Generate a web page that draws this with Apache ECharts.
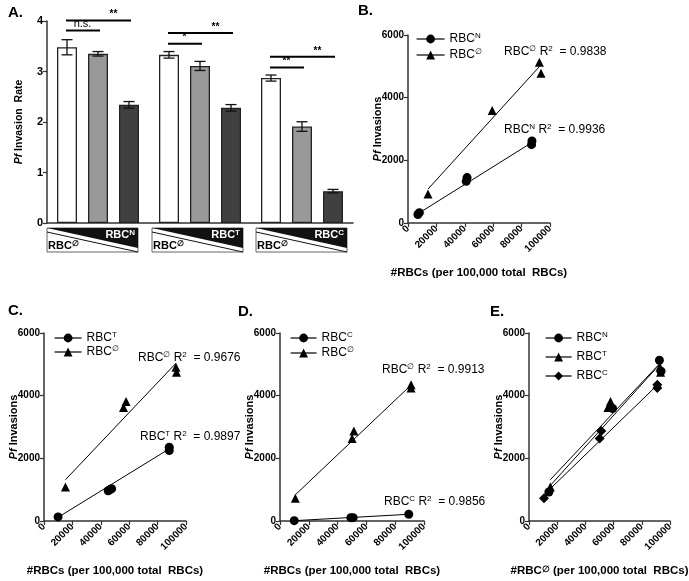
<!DOCTYPE html>
<html><head><meta charset="utf-8">
<script src="https://cdn.jsdelivr.net/npm/echarts@6/dist/echarts.min.js"></script>
<style>html,body{margin:0;padding:0;background:#fff}#c{width:689px;height:581px}</style>
</head><body><div id="c"></div>
<script>
// ---------------- Panel A data ----------------
const groupNames = ['RBCN', 'RBCT', 'RBCC'];
const rateWhite = [3.48, 3.33, 2.87];
const rateGray  = [3.35, 3.11, 1.91];
const rateDark  = [2.34, 2.28, 0.63];
const errWhite  = [0.15, 0.065, 0.06];
const errGray   = [0.045, 0.09, 0.095];
const errDark   = [0.065, 0.065, 0.035];
const sigGroup = [0, 0, 1, 1, 2, 2];
const sigFrom  = [0, 0, 0, 0, 0, 0];
const sigTo    = [2, 1, 2, 1, 2, 1];
const sigY     = [4.01, 3.81, 3.76, 3.55, 3.29, 3.08];
const sigText  = ['**', 'n.s.', '**', '*', '**', '**'];
const boxTop = ['N', 'T', 'C'];

// ---------------- Panel B data ----------------
const bN = [[7000, 270], [8000, 330], [41000, 1330], [41600, 1450], [87000, 2500], [87300, 2620]];
const b0 = [[14100, 924], [59300, 3590], [92500, 5130], [93650, 4780]];
const bNfit = [[7000, 297], [87300, 2570]];
const b0fit = [[14100, 1083], [92500, 4990]];
const bR2 = ['0.9838', '0.9936'];

// ---------------- Panel C data ----------------
const cT = [[9900, 130], [45200, 964], [46500, 1000], [47600, 1028], [88200, 2356], [88200, 2249]];
const c0 = [[15100, 1082], [56000, 3620], [57800, 3813], [92900, 4905], [93300, 4745]];
const cTfit = [[9900, 118], [88200, 2303]];
const c0fit = [[15100, 1317], [92900, 5034]];
const cR2 = ['0.9676', '0.9897'];

// ---------------- Panel D data ----------------
const dC = [[9900, 10], [49200, 107], [50800, 107], [89400, 214]];
const d0 = [[10640, 728], [50100, 2635], [51300, 2870], [91000, 4348], [91000, 4241]];
const dCfit = [[9900, 10], [89400, 214]];
const d0fit = [[10640, 835], [91000, 4338]];
const dR2 = ['0.9913', '0.9856'];

// ---------------- Panel E data (same RBC∅ measurements) ----------------
const eN = b0, eT = c0, eC = d0;
const eNfit = b0fit, eTfit = c0fit, eCfit = d0fit;

const xTicks = { min: 0, max: 100000, interval: 20000 };
const yTicks = { min: 0, max: 6000, interval: 2000 };

const FONT = '"Liberation Sans", Arial, Helvetica, sans-serif';
const AX = '#333';

const chart = echarts.init(document.getElementById('c'), null, { renderer: 'canvas' });

const rich12 = {
  t: { fontSize: 12, fontFamily: FONT, color: '#000', lineHeight: 14 },
  s: { fontSize: 8, fontFamily: FONT, color: '#000', lineHeight: 8, verticalAlign: 'top' }
};
const legendLabels = {
  bN: '{t|RBC}{s|N}', b0: '{t|RBC}{s|∅}',
  cT: '{t|RBC}{s|T}', c0: '{t|RBC}{s|∅}',
  dC: '{t|RBC}{s|C}', d0: '{t|RBC}{s|∅}',
  eN: '{t|RBC}{s|N}', eT: '{t|RBC}{s|T}', eC: '{t|RBC}{s|C}'
};

function legend(names, left, top, gap, iw) {
  return {
    orient: 'vertical', left: left, top: top, itemGap: gap, itemWidth: iw, itemHeight: 11,
    data: names, selectedMode: false, padding: 0,
    formatter: n => legendLabels[n],
    textStyle: { fontSize: 12, fontFamily: FONT, color: '#000', rich: rich12 },
    lineStyle: { color: '#000', width: 1.2, opacity: 1, type: 'solid' },
    itemStyle: { color: '#000', opacity: 1 }
  };
}

const nameStyle = (size) => ({
  fontSize: size, fontWeight: 'bold', fontFamily: FONT, color: '#000',
  rich: {
    i: { fontSize: size, fontWeight: 'bold', fontStyle: 'italic', fontFamily: FONT, color: '#000' },
    b: { fontSize: size, fontWeight: 'bold', fontFamily: FONT, color: '#000' },
    s: { fontSize: size - 3, fontWeight: 'bold', fontFamily: FONT, color: '#000', verticalAlign: 'top', lineHeight: 8 }
  }
});

const plain = v => String(v);

function sx(gi, name) {
  return {
    gridIndex: gi, type: 'value', min: xTicks.min, max: xTicks.max, interval: xTicks.interval,
    axisLine: { show: true, onZero: false, lineStyle: { color: AX, width: 1.5 } },
    axisTick: { show: true, length: 4, lineStyle: { color: AX, width: 1.2 } },
    axisLabel: { rotate: 45, fontSize: 10, fontWeight: 'bold', color: '#000', margin: 4, fontFamily: FONT, formatter: plain },
    splitLine: { show: false },
    name: name, nameLocation: 'middle', nameGap: 44, nameMoveOverlap: false,
    nameTextStyle: nameStyle(11.5)
  };
}
function sy(gi) {
  return {
    gridIndex: gi, type: 'value', min: yTicks.min, max: yTicks.max, interval: yTicks.interval,
    axisLine: { show: true, onZero: false, lineStyle: { color: AX, width: 1.5 } },
    axisTick: { show: true, length: 4, lineStyle: { color: AX, width: 1.2 } },
    axisLabel: { fontSize: 10, fontWeight: 'bold', color: '#000', margin: 4, fontFamily: FONT, formatter: plain },
    splitLine: { show: false },
    name: '{i|Pf}{b| Invasions}', nameLocation: 'middle', nameGap: 25, nameMoveOverlap: false,
    nameTextStyle: nameStyle(11)
  };
}

function pts(name, gi, data, symbol) {
  return {
    type: 'line', name: name, xAxisIndex: gi, yAxisIndex: gi, data: data,
    symbol: symbol, symbolSize: symbol === 'diamond' ? 10 : 9, showSymbol: true, showAllSymbol: true,
    itemStyle: { color: '#000' }, lineStyle: { opacity: 0 }, z: 4, silent: true, animation: false
  };
}
function fit(gi, data) {
  return {
    type: 'line', xAxisIndex: gi, yAxisIndex: gi, data: data, symbol: 'none',
    lineStyle: { color: '#000', width: 1 }, z: 3, silent: true, animation: false
  };
}

const STEP = 31; // px between bar centres in a group (barWidth 20, gap 11)
const errData = [];
[[rateWhite, errWhite], [rateGray, errGray], [rateDark, errDark]].forEach(([m, e], j) => {
  m.forEach((v, g) => errData.push([g, j, v - e[g], v + e[g]]));
});
const sigData = sigGroup.map((g, i) => [g, sigFrom[i], sigTo[i], sigY[i]]);

const grids = [
  { left: 47, top: 21, width: 306, height: 202 },
  { left: 408, top: 35, width: 142, height: 188 },
  { left: 44, top: 333, width: 142, height: 188 },
  { left: 280, top: 333, width: 144, height: 188 },
  { left: 529, top: 333, width: 141, height: 188 }
].map(g => Object.assign({ outerBoundsMode: 'none', containLabel: false }, g));

const barBase = { type: 'bar', xAxisIndex: 0, yAxisIndex: 0, barWidth: 20, barGap: '55%', animation: false, silent: true };

const option = {
  animation: false,
  backgroundColor: '#fff',
  textStyle: { fontFamily: FONT },
  grid: grids,
  legend: [
    legend(['bN', 'b0'], 416, 32, 3, 28),
    legend(['cT', 'c0'], 54, 331, 1, 27),
    legend(['dC', 'd0'], 290, 331, 2, 26),
    legend(['eN', 'eT', 'eC'], 545, 331, 6, 26)
  ],
  xAxis: [
    {
      gridIndex: 0, type: 'category', data: groupNames,
      axisLine: { show: true, lineStyle: { color: AX, width: 1.5 } },
      axisTick: { show: false }, axisLabel: { show: false }, splitLine: { show: false }
    },
    sx(1, '{b|#RBCs (per 100,000 total  RBCs)}'),
    sx(2, '{b|#RBCs (per 100,000 total  RBCs)}'),
    sx(3, '{b|#RBCs (per 100,000 total  RBCs)}'),
    sx(4, '{b|#RBC}{s|∅}{b| (per 100,000 total  RBCs)}')
  ],
  yAxis: [
    {
      gridIndex: 0, type: 'value', min: 0, max: 4, interval: 1,
      axisLine: { show: true, lineStyle: { color: AX, width: 1.5 } },
      axisTick: { show: true, length: 4, lineStyle: { color: AX, width: 1.2 } },
      axisLabel: { fontSize: 11, fontWeight: 'bold', color: '#000', margin: 4, fontFamily: FONT },
      splitLine: { show: false },
      name: '{i|Pf}{b| Invasion  Rate}', nameLocation: 'middle', nameGap: 22, nameMoveOverlap: false,
      nameTextStyle: nameStyle(10.5)
    },
    sy(1), sy(2), sy(3), sy(4)
  ],
  series: [
    Object.assign({}, barBase, { name: 'mixWhite', data: rateWhite, itemStyle: { color: '#ffffff', borderColor: '#222', borderWidth: 1.3 } }),
    Object.assign({}, barBase, { name: 'mixGray', data: rateGray, itemStyle: { color: '#999999', borderColor: '#222', borderWidth: 1.3 } }),
    Object.assign({}, barBase, { name: 'mixDark', data: rateDark, itemStyle: { color: '#404040', borderColor: '#222', borderWidth: 1.3 } }),
    {
      type: 'custom', xAxisIndex: 0, yAxisIndex: 0, data: errData, z: 5, silent: true,
      encode: { x: 0, y: [2, 3] },
      renderItem: (params, api) => {
        const g = api.value(0), j = api.value(1);
        const p1 = api.coord([g, api.value(2)]), p2 = api.coord([g, api.value(3)]);
        const x = p1[0] + (j - 1) * STEP, cap = 5.5;
        const st = { stroke: '#111', lineWidth: 1.3 };
        return { type: 'group', children: [
          { type: 'line', shape: { x1: x, y1: p1[1], x2: x, y2: p2[1] }, style: st },
          { type: 'line', shape: { x1: x - cap, y1: p1[1], x2: x + cap, y2: p1[1] }, style: st },
          { type: 'line', shape: { x1: x - cap, y1: p2[1], x2: x + cap, y2: p2[1] }, style: st }
        ] };
      }
    },
    {
      type: 'custom', xAxisIndex: 0, yAxisIndex: 0, data: sigData, z: 5, silent: true, clip: false,
      encode: { x: 0, y: 3 },
      renderItem: (params, api) => {
        const g = api.value(0), a = api.value(1), b = api.value(2);
        const c = api.coord([g, api.value(3)]);
        const x1 = c[0] + (a - 1) * STEP - 1, x2 = c[0] + (b - 1) * STEP + 2;
        const tAt = (b - a) > 1 ? a + 1.5 : (a + b) / 2;
        const tx = c[0] + (tAt - 1) * STEP;
        const txt = sigText[params.dataIndex];
        const isNs = txt === 'n.s.';
        return { type: 'group', children: [
          { type: 'line', shape: { x1: x1, y1: c[1], x2: x2, y2: c[1] }, style: { stroke: '#000', lineWidth: 2 } },
          { type: 'text', x: tx, y: c[1] - 1, style: {
              text: txt, fill: '#000', align: 'center', verticalAlign: 'bottom',
              font: (isNs ? 'normal 11px ' : 'bold 10px ') + FONT } }
        ] };
      }
    },
    fit(1, bNfit), fit(1, b0fit), pts('bN', 1, bN, 'circle'), pts('b0', 1, b0, 'triangle'),
    fit(2, cTfit), fit(2, c0fit), pts('cT', 2, cT, 'circle'), pts('c0', 2, c0, 'triangle'),
    fit(3, dCfit), fit(3, d0fit), pts('dC', 3, dC, 'circle'), pts('d0', 3, d0, 'triangle'),
    fit(4, eNfit), fit(4, eTfit), fit(4, eCfit),
    pts('eN', 4, eN, 'circle'), pts('eT', 4, eT, 'triangle'), pts('eC', 4, eC, 'diamond')
  ]
};

// ---- decorations: panel letters, R² notes, mix boxes under panel A ----
const graphics = [];
[['A.', 8, 13], ['B.', 358, 11], ['C.', 8, 311], ['D.', 238, 312], ['E.', 490, 312]].forEach(([t, x, y]) => {
  graphics.push({ type: 'text', x: x, y: y, style: { text: t, font: 'bold 15px ' + FONT, fill: '#000', verticalAlign: 'middle' } });
});
function r2(sup, val, x, y) {
  graphics.push({ type: 'text', x: x, y: y, style: {
    text: '{t|RBC}{s|' + sup + '}{t| R}{s|2}{t|  = ' + val + '}', rich: rich12, verticalAlign: 'middle', fill: '#000' } });
}
r2('∅', bR2[0], 504, 52); r2('N', bR2[1], 504, 130);
r2('∅', cR2[0], 138, 358); r2('T', cR2[1], 140, 437);
r2('∅', dR2[0], 382, 370); r2('C', dR2[1], 384, 502);

const boxX = [47, 152, 256], boxW = 91, boxY = 228, boxH = 24;
boxX.forEach((x0, k) => {
  graphics.push({ type: 'rect', shape: { x: x0, y: boxY, width: boxW, height: boxH }, style: { fill: '#fff', stroke: '#666', lineWidth: 1 } });
  graphics.push({ type: 'polygon', shape: { points: [[x0, boxY], [x0 + boxW, boxY], [x0 + boxW, boxY + boxH - 4]] }, style: { fill: '#111' } });
  graphics.push({ type: 'line', shape: { x1: x0, y1: boxY + 4, x2: x0 + boxW, y2: boxY + boxH }, style: { stroke: '#111', lineWidth: 1 } });
  graphics.push({ type: 'text', x: x0 + boxW - 3, y: boxY + 7, style: {
    text: '{w|RBC}{ws|' + boxTop[k] + '}', align: 'right', verticalAlign: 'middle',
    rich: { w: { font: 'bold 11px ' + FONT, fill: '#fff', lineHeight: 12 }, ws: { font: 'bold 8px ' + FONT, fill: '#fff', lineHeight: 8, verticalAlign: 'top' } } } });
  graphics.push({ type: 'text', x: x0 + 1, y: boxY + 18, style: {
    text: '{b|RBC}{bs|∅}', align: 'left', verticalAlign: 'middle',
    rich: { b: { font: 'bold 11px ' + FONT, fill: '#000', lineHeight: 12 }, bs: { font: 'bold 8px ' + FONT, fill: '#000', lineHeight: 8, verticalAlign: 'top' } } } });
});
option.graphic = graphics;

chart.setOption(option);
</script>
</body></html>
